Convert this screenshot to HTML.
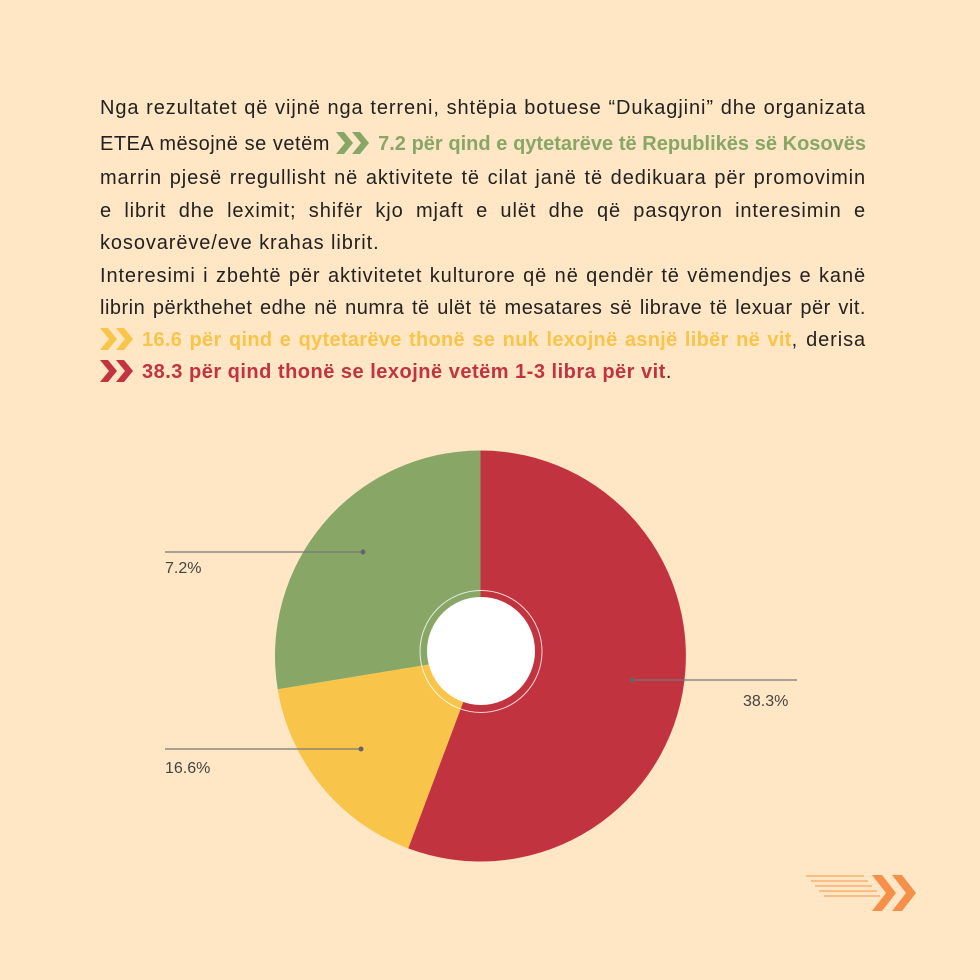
<!DOCTYPE html>
<html><head><meta charset="utf-8"><style>
body{margin:0;width:980px;height:980px;background:#FFE6C4;position:relative;overflow:hidden;font-family:"Liberation Sans",sans-serif;}
.t{position:absolute;left:100px;width:766px;font-size:20px;letter-spacing:0.9px;color:#222;line-height:24px;white-space:nowrap}
.j{text-align:justify;text-align-last:justify;white-space:normal}
.g{color:#88A766;font-weight:bold;letter-spacing:0px}.y{color:#F9C44A;font-weight:bold;letter-spacing:0.3px}.r{color:#C23340;font-weight:bold;letter-spacing:0.5px}
.ar{display:inline-block;vertical-align:-4px;margin-right:8px}
</style></head><body>
<div class="t j" style="top:96px">Nga rezultatet që vijnë nga terreni, shtëpia botuese “Dukagjini” dhe organizata</div>
<div class="t j" style="top:132px;letter-spacing:0.5px">ETEA mësojnë se vetëm <svg class="ar" width="34" height="22" viewBox="0 0 34 22"><path d="M0 0h8l9 11-9 11H0l9-11z M16 0h8l9 11-9 11h-8l9-11z" fill="#88A766"/></svg><span class="g">7.2 për qind e qytetarëve të Republikës së Kosovës</span></div>
<div class="t j" style="top:166px">marrin pjesë rregullisht në aktivitete të cilat janë të dedikuara për promovimin</div>
<div class="t j" style="top:199px">e librit dhe leximit; shifër kjo mjaft e ulët dhe që pasqyron interesimin e</div>
<div class="t" style="top:231px">kosovarëve/eve krahas librit.</div>
<div class="t j" style="top:264px">Interesimi i zbehtë për aktivitetet kulturore që në qendër të vëmendjes e kanë</div>
<div class="t j" style="top:296px;letter-spacing:0.5px">librin përkthehet edhe në numra të ulët të mesatares së librave të lexuar për vit.</div>
<div class="t j" style="top:328px"><svg class="ar" width="34" height="22" viewBox="0 0 34 22"><path d="M0 0h8l9 11-9 11H0l9-11z M16 0h8l9 11-9 11h-8l9-11z" fill="#F9C44A"/></svg><span class="y">16.6 për qind e qytetarëve thonë se nuk lexojnë asnjë libër në vit</span>, derisa</div>
<div class="t" style="top:360px"><svg class="ar" width="34" height="22" viewBox="0 0 34 22"><path d="M0 0h8l9 11-9 11H0l9-11z M16 0h8l9 11-9 11h-8l9-11z" fill="#C23340"/></svg><span class="r">38.3 për qind thonë se lexojnë vetëm 1-3 libra për vit</span>.</div>
<svg style="position:absolute;left:0;top:0" width="980" height="980">
<path d="M480.5 656 L480.5 450.5 A205.5 205.5 0 1 1 408.2 848.4 Z" fill="#C23340"/>
<path d="M480.5 656 L408.2 848.4 A205.5 205.5 0 0 1 277.7 689.2 Z" fill="#F9C44A"/>
<path d="M480.5 656 L277.7 689.2 A205.5 205.5 0 0 1 480.5 450.5 Z" fill="#88A766"/>
<circle cx="481" cy="651.5" r="61" fill="none" stroke="#fff" stroke-opacity="0.8" stroke-width="1"/>
<circle cx="481" cy="651" r="54" fill="#fff"/>
<g stroke="#777" stroke-width="1.2"><line x1="165" y1="552" x2="363" y2="552"/><line x1="165" y1="749" x2="361" y2="749"/><line x1="632" y1="680" x2="797" y2="680"/></g>
<g fill="#666"><circle cx="363" cy="552" r="2.5"/><circle cx="361" cy="749" r="2.5"/><circle cx="632" cy="680" r="2.5"/></g>
<g font-family="Liberation Sans,sans-serif" font-size="16" fill="#444"><text x="165" y="573">7.2%</text><text x="165" y="773">16.6%</text><text x="743" y="706">38.3%</text></g>
<g stroke="#F5B070" stroke-width="1.5"><line x1="806" y1="876" x2="864" y2="876"/><line x1="811" y1="881" x2="868" y2="881"/><line x1="815" y1="886" x2="872" y2="886"/><line x1="819" y1="891" x2="877" y2="891"/><line x1="824" y1="896" x2="880" y2="896"/></g>
<path d="M872 875h10l14 18-14 18h-10l14-18z M892 875h10l14 18-14 18h-10l14-18z" fill="#F5904A"/>
</svg>
</body></html>
